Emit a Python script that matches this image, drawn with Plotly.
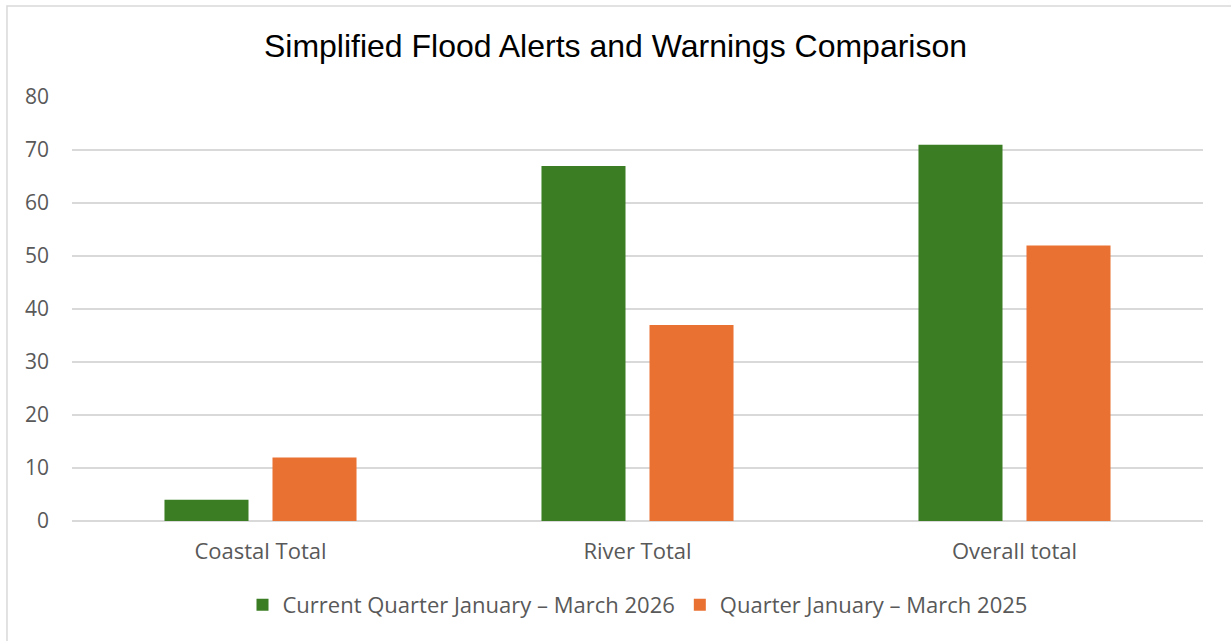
import plotly.graph_objects as go

categories = ["Coastal Total", "River Total", "Overall total"]
series_names = ["Current Quarter January \u2013 March 2026", "Quarter January \u2013 March 2025"]
current_2026 = [4, 67, 71]
quarter_2025 = [12, 37, 52]
y_ticks = [0, 10, 20, 30, 40, 50, 60, 70, 80]

colors = ["#3b7d23", "#e97132"]
tick_font = dict(family="Open Sans, Noto Sans, sans-serif", size=21, color="#595959")
cat_font = dict(family="Open Sans, Noto Sans, sans-serif", size=22, color="#595959")

fig = go.Figure()
fig.add_trace(go.Bar(x=categories, y=current_2026, name=series_names[0], marker=dict(color=colors[0], line=dict(width=0))))
fig.add_trace(go.Bar(x=categories, y=quarter_2025, name=series_names[1], marker=dict(color=colors[1], line=dict(width=0))))

fig.update_layout(
    width=1231, height=641,
    margin=dict(l=72, r=28, t=97, b=120),
    paper_bgcolor="white", plot_bgcolor="white",
    barmode="group", bargap=0.427, bargroupgap=0.222,
    title=dict(text="Simplified Flood Alerts and Warnings Comparison", x=0.5, xanchor="center",
               y=0.928, yanchor="middle",
               font=dict(family="Liberation Sans, Arial, sans-serif", size=32, color="#000000")),
    font=tick_font,
    legend=dict(orientation="h", x=0.5, xanchor="center", y=-0.198, yanchor="middle",
                font=dict(family="Open Sans, Noto Sans, sans-serif", size=22, color="#595959"),
                itemwidth=30, traceorder="normal"),
    xaxis=dict(showgrid=False, showline=False, ticks="", tickfont=cat_font, ticklabelstandoff=15),
    yaxis=dict(range=[0, 80], tickvals=y_ticks, showgrid=True, gridcolor="#d9d9d9", gridwidth=1.5,
               zeroline=True, zerolinecolor="#d9d9d9", zerolinewidth=1.5, showline=False,
               ticks="", tickfont=tick_font, ticklabelstandoff=22),
    shapes=[dict(type="rect", xref="paper", yref="paper", x0=-0.0575, y0=-0.6, x1=1.2, y1=1.2146,
                 line=dict(color="#d9d9d9", width=1.5), fillcolor="rgba(0,0,0,0)", layer="below")],
)

fig.write_html("out.html", config={"displayModeBar": False},
               post_script="document.body.style.margin='0';document.body.style.padding='0';")
